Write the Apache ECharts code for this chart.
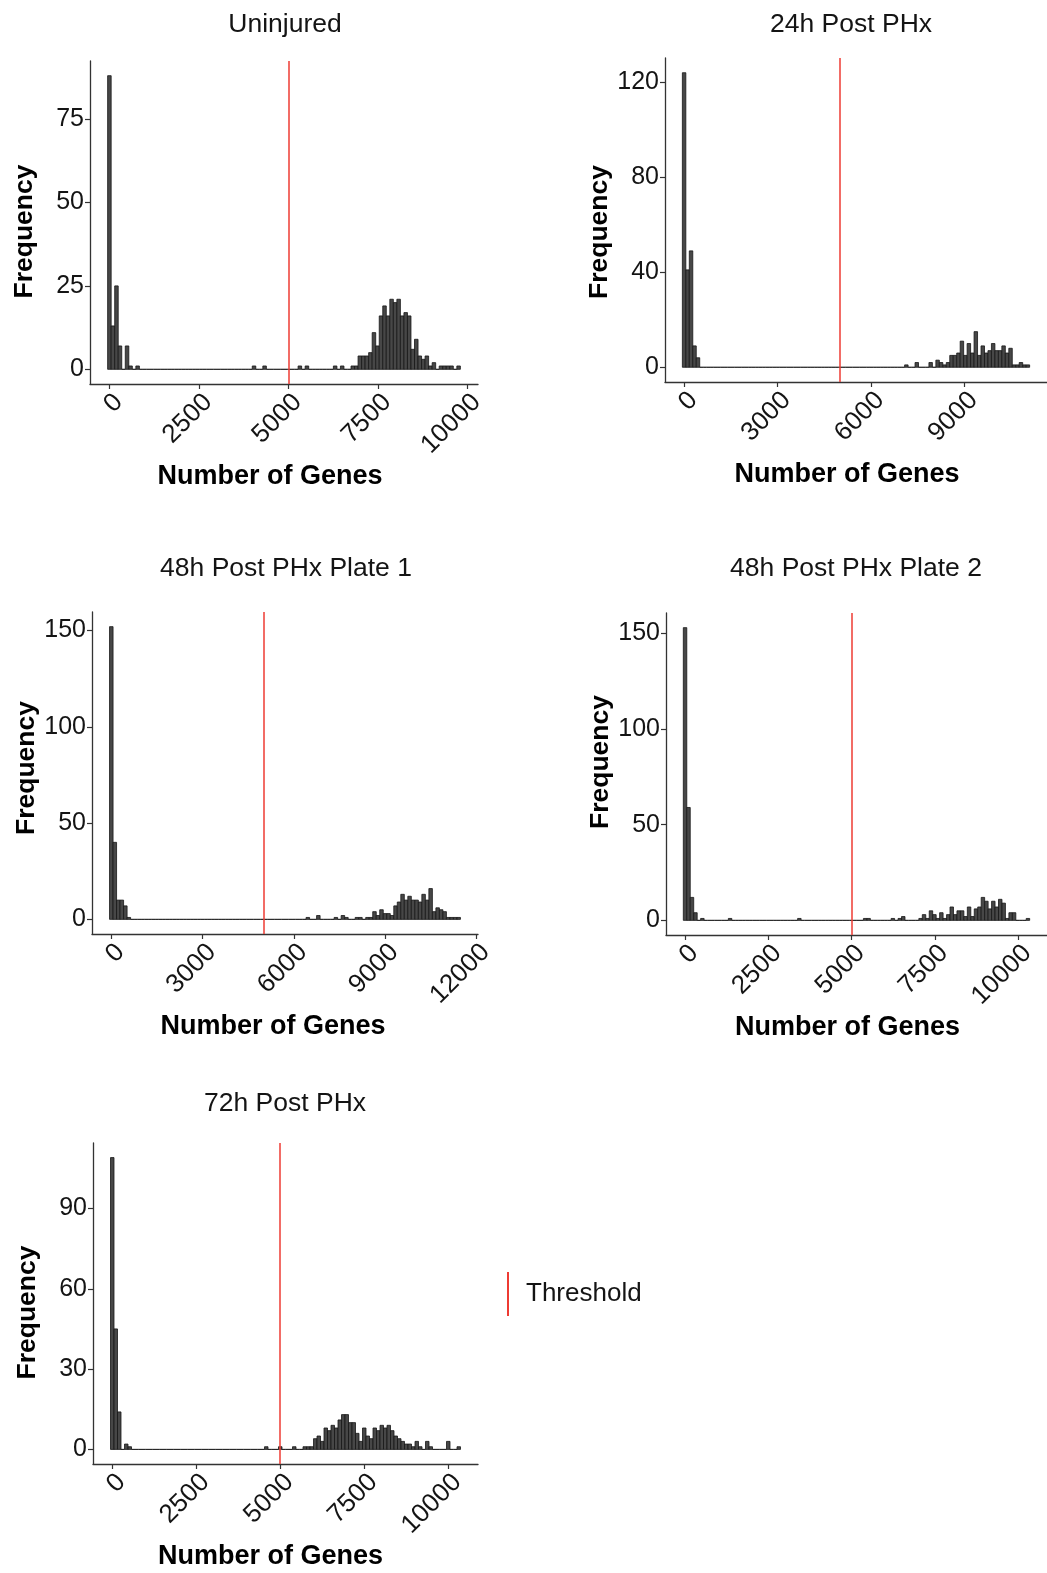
<!DOCTYPE html>
<html>
<head>
<meta charset="utf-8">
<script src="https://cdn.jsdelivr.net/npm/echarts@6/dist/echarts.min.js"></script>
<style>
  html, body { margin: 0; padding: 0; background: #ffffff; }
  #chart { width: 1047px; height: 1573px; }
</style>
</head>
<body>
<div id="chart"></div>
<script>
// Histograms of genes detected per cell, 100 bins each, with the 5000-gene threshold.
const panelTitles = ['Uninjured', '24h Post PHx', '48h Post PHx Plate 1', '48h Post PHx Plate 2', '72h Post PHx'];
const binWidths = [98.5, 111.5, 115.3, 104, 104.2];   // genes per bin; first bin centred on 0
const threshold = 5000;

const countsUninjured = [
  88,13,25,7,0,7,1,0,1,0, 0,0,0,0,0,0,0,0,0,0, 0,0,0,0,0,0,0,0,0,0, 0,0,0,0,0,0,0,0,0,0,
  0,1,0,0,1,0,0,0,0,0, 0,0,0,0,1,0,1,0,0,0, 0,0,0,0,1,0,1,0,0,1, 1,4,4,4,5,11,7,16,19,16,
  21,20,21,16,17,16,6,9,4,3, 4,1,2,0,1,1,1,1,0,1
];
const counts24h = [
  124,41,49,9,4,0,0,0,0,0, 0,0,0,0,0,0,0,0,0,0, 0,0,0,0,0,0,0,0,0,0, 0,0,0,0,0,0,0,0,0,0,
  0,0,0,0,0,0,0,0,0,0, 0,0,0,0,0,0,0,0,0,0, 0,0,0,0,1,0,0,2,0,0, 0,2,0,3,2,1,2,5,5,6,
  11,5,10,6,15,5,9,6,7,10, 7,7,9,6,8,1,1,2,1,1
];
const counts48hPlate1 = [
  152,40,10,10,7,1,0,0,0,0, 0,0,0,0,0,0,0,0,0,0, 0,0,0,0,0,0,0,0,0,0, 0,0,0,0,0,0,0,0,0,0,
  0,0,0,0,0,0,0,0,0,0, 0,0,0,0,0,0,1,0,0,2, 0,0,0,0,1,0,2,1,0,0, 1,1,0,1,1,4,2,5,3,3,
  2,7,9,13,10,12,10,10,9,13, 10,16,4,6,5,4,1,1,1,1
];
const counts48hPlate2 = [
  153,59,12,4,0,1,0,0,0,0, 0,0,0,1,0,0,0,0,0,0, 0,0,0,0,0,0,0,0,0,0, 0,0,0,1,0,0,0,0,0,0,
  0,0,0,0,0,0,0,0,0,0, 0,0,1,1,0,0,0,0,0,0, 1,0,1,2,0,0,0,0,1,3, 1,5,3,1,4,1,3,7,3,5,
  5,2,7,2,6,7,12,10,6,10, 7,11,9,1,4,4,0,0,0,1
];
const counts72h = [
  109,45,14,0,2,1,0,0,0,0, 0,0,0,0,0,0,0,0,0,0, 0,0,0,0,0,0,0,0,0,0, 0,0,0,0,0,0,0,0,0,0,
  0,0,0,0,1,0,0,0,1,0, 0,0,1,0,0,1,1,1,4,5, 3,8,7,9,8,11,13,13,10,10, 6,3,8,5,4,8,7,9,8,9,
  7,5,4,3,2,2,1,3,1,0, 3,1,0,0,0,0,3,0,0,1
];
const panelCounts = [countsUninjured, counts24h, counts48hPlate1, counts48hPlate2, counts72h];

const xTickValues = [
  [0, 2500, 5000, 7500, 10000],
  [0, 3000, 6000, 9000],
  [0, 3000, 6000, 9000, 12000],
  [0, 2500, 5000, 7500, 10000],
  [0, 2500, 5000, 7500, 10000]
];
const yTickValues = [
  [0, 25, 50, 75],
  [0, 40, 80, 120],
  [0, 50, 100, 150],
  [0, 50, 100, 150],
  [0, 30, 60, 90]
];

// Panel boxes (pixels); axis ranges use a ggplot-style 5% expansion
const panelBoxes = [
  { left: 90,  top: 61,   width: 388, height: 323 },
  { left: 665, top: 58,   width: 388, height: 324 },
  { left: 92,  top: 612,  width: 386, height: 322 },
  { left: 666, top: 613,  width: 387, height: 322 },
  { left: 93,  top: 1143, width: 385, height: 321 }
];
const titleCenters = [[285, 11], [851, 11], [286, 555], [856, 555], [285, 1090]];
// nudges for axis titles: [x-title shift left, y-title shift down], pixels
const nameNudges = [[14, 9], [9, 12], [12, -5], [9, -12], [15, 9]];

const FONT = '"Liberation Sans", Arial, Helvetica, sans-serif';
const INK = '#141414';

function axisRange(counts, w) {
  const lo = -w / 2, hi = (counts.length - 1) * w + w / 2;
  const pad = (hi - lo) * 0.05;
  const ymax = Math.max.apply(null, counts);
  return { xmin: lo - pad, xmax: hi + pad, ymin: -ymax * 0.05, ymax: ymax * 1.05 };
}

function plainNumber(v) { return String(v); }

const grids = [], xAxes = [], yAxes = [], series = [], titles = [];

panelCounts.forEach(function (counts, k) {
  const w = binWidths[k];
  const r = axisRange(counts, w);
  const nx = nameNudges[k][0], ny = nameNudges[k][1];
  grids.push(Object.assign({ containLabel: false }, panelBoxes[k]));
  titles.push({
    text: panelTitles[k], left: titleCenters[k][0], top: titleCenters[k][1], textAlign: 'center', padding: 0,
    textStyle: { fontFamily: FONT, fontSize: 26.5, fontWeight: 'normal', color: INK }
  });
  xAxes.push({
    type: 'value', gridIndex: k, min: r.xmin, max: r.xmax,
    name: 'Number of Genes', nameLocation: 'middle', nameGap: 79,
    nameTextStyle: { fontFamily: FONT, fontSize: 27, fontWeight: 'bold', color: '#000',
                     padding: [0, 2 * nx, 0, 0] },
    axisLine: { show: true, onZero: false, lineStyle: { color: '#333', width: 1.3 } },
    axisTick: { show: true, customValues: xTickValues[k], length: 5, lineStyle: { color: '#333', width: 1.2 } },
    axisLabel: { customValues: xTickValues[k], formatter: plainNumber, rotate: 45, margin: 5,
                 verticalAlign: 'top', fontFamily: FONT, fontSize: 26, color: INK },
    splitLine: { show: false }
  });
  yAxes.push({
    type: 'value', gridIndex: k, min: r.ymin, max: r.ymax,
    name: 'Frequency', nameLocation: 'middle', nameGap: 52,
    nameTextStyle: { fontFamily: FONT, fontSize: 26.5, fontWeight: 'bold', color: '#000',
                     padding: ny >= 0 ? [0, 2 * ny, 0, 0] : [0, 0, 0, -2 * ny] },
    axisLine: { show: true, onZero: false, lineStyle: { color: '#333', width: 1.3 } },
    axisTick: { show: true, customValues: yTickValues[k], length: 5, lineStyle: { color: '#333', width: 1.2 } },
    axisLabel: { customValues: yTickValues[k], formatter: plainNumber, margin: 6,
                 fontFamily: FONT, fontSize: 25, color: INK },
    splitLine: { show: false }
  });
  series.push({
    type: 'custom', xAxisIndex: k, yAxisIndex: k, silent: true,
    data: counts.map(function (c, i) { return [i * w, c]; }),
    encode: { x: 0, y: 1 },
    renderItem: function (params, api) {
      const x = api.value(0), y = api.value(1);
      const p0 = api.coord([x - w / 2, 0]);
      const p1 = api.coord([x + w / 2, y]);
      return {
        type: 'rect',
        shape: { x: p0[0], y: p1[1], width: p1[0] - p0[0], height: p0[1] - p1[1] },
        style: { fill: '#474747', stroke: '#161616', lineWidth: 0.8 }
      };
    }
  });
  series.push({
    name: 'Threshold', type: 'line', xAxisIndex: k, yAxisIndex: k, data: [], silent: true,
    itemStyle: { color: '#ee3b33' },
    markLine: {
      silent: true, symbol: 'none', label: { show: false }, animation: false,
      lineStyle: { color: '#ee3b33', width: 1.5, type: 'solid' },
      data: [{ xAxis: threshold }]
    }
  });
});

const chart = echarts.init(document.getElementById('chart'), null, { renderer: 'canvas' });
chart.setOption({
  backgroundColor: '#ffffff',
  animation: false,
  title: titles,
  grid: grids,
  xAxis: xAxes,
  yAxis: yAxes,
  legend: {
    data: ['Threshold'], left: 502, top: 1267, orient: 'vertical',
    icon: 'rect', itemWidth: 2, itemHeight: 44, selectedMode: false,
    itemStyle: { color: '#ee3b33' },
    textStyle: { fontFamily: FONT, fontSize: 26, color: INK, padding: [0, 0, 0, 12] }
  },
  series: series
});
</script>
</body>
</html>
